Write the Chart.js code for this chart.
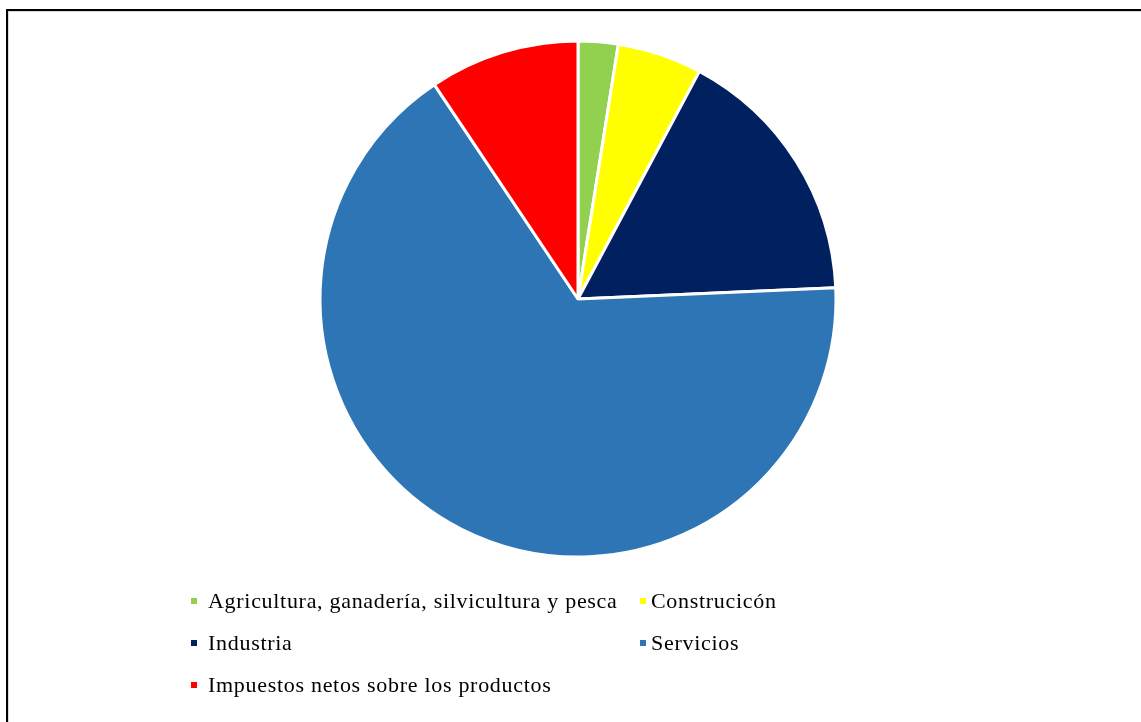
<!DOCTYPE html>
<html>
<head>
<meta charset="utf-8">
<script src="https://cdn.jsdelivr.net/npm/chart.js@4"></script>
<style>
  html, body { margin: 0; padding: 0; background: #ffffff; }
  #wrap { position: relative; width: 1141px; height: 722px; overflow: hidden; }
  #frame {
    position: absolute; left: 6px; top: 9px; width: 1200px; height: 800px;
    border-left: 2px solid #000; border-top: 2px solid #000;
    box-shadow: inset 1px 1px 0 #d9d9d9; pointer-events: none;
  }
  canvas { position: absolute; left: 0; top: 0; }
</style>
</head>
<body>
<div id="wrap">
  <canvas id="c" width="1141" height="722"></canvas>
  <div id="frame"></div>
</div>
<script>
// Composición del PIB por sector (%)
const categories = [
  'Agricultura, ganadería, silvicultura y pesca',
  'Construcicón',
  'Industria',
  'Servicios',
  'Impuestos netos sobre los productos'
];
const shares = [2.5, 5.3, 16.5, 66.3, 9.4];
const colors = ['#92D050', '#FFFF00', '#002060', '#2E75B6', '#FF0000'];

// Legend grid: order of items, row by row, two columns
const legendRows = [[0, 1], [2, 3], [4]];
const legendCols = [191, 640];
const legendRowBaselines = [608, 650, 692];

const gridLegend = {
  id: 'gridLegend',
  afterDraw(chart) {
    const ctx = chart.ctx;
    const ds = chart.data.datasets[0];
    ctx.save();
    ctx.font = '22px "Liberation Serif", "Times New Roman", serif';
    ctx.textBaseline = 'alphabetic';
    ctx.letterSpacing = '0.7px';
    legendRows.forEach((row, r) => {
      row.forEach((idx, c) => {
        const x = legendCols[c];
        const y = legendRowBaselines[r];
        ctx.fillStyle = ds.backgroundColor[idx];
        ctx.fillRect(x, y - 10, 6, 6);
        ctx.fillStyle = '#000000';
        ctx.fillText(chart.data.labels[idx], x + (c === 1 ? 11 : 17), y);
      });
    });
    ctx.restore();
  }
};

new Chart(document.getElementById('c'), {
  type: 'pie',
  data: {
    labels: categories,
    datasets: [{
      data: shares,
      backgroundColor: colors,
      borderColor: '#ffffff',
      borderWidth: 3,
      hoverOffset: 0
    }]
  },
  options: {
    responsive: false,
    animation: false,
    radius: 258,
    layout: { padding: { left: 35, right: 20, top: 20, bottom: 144 } },
    plugins: {
      legend: { display: false },
      tooltip: { enabled: false }
    }
  },
  plugins: [gridLegend]
});
</script>
</body>
</html>
